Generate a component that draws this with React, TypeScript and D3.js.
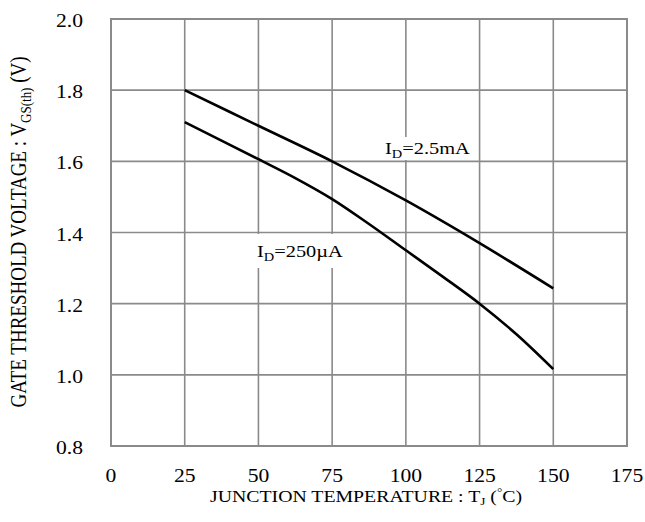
import React from "react";
import * as d3 from "d3";

// Junction temperature (°C) sample points and threshold voltages (V)
const tempsHigh = [25, 50, 75, 100, 125, 150];
const vthHigh = [1.8, 1.7, 1.6, 1.49, 1.37, 1.243]; // ID = 2.5mA

const tempsLow = [25, 50, 62.5, 75, 87.5, 100, 112.5, 125, 137.5, 150];
const vthLow = [1.71, 1.606, 1.553, 1.494, 1.424, 1.35, 1.276, 1.2, 1.114, 1.016]; // ID = 250µA

const xTicks = [0, 25, 50, 75, 100, 125, 150, 175];
const yTicks = [0.8, 1.0, 1.2, 1.4, 1.6, 1.8, 2.0];

const W = 645;
const H = 522;
const plot = { left: 111, right: 627, top: 19, bottom: 446 };
const FONT = "'Liberation Serif', 'Times New Roman', serif";
const SX = 1.2; // horizontal glyph stretch

export default function App() {
  const x = d3.scaleLinear().domain([0, 175]).range([plot.left, plot.right]);
  const y = d3.scaleLinear().domain([0.8, 2.0]).range([plot.bottom, plot.top]);

  const line = d3
    .line<[number, number]>()
    .x((d) => x(d[0]))
    .y((d) => y(d[1]))
    .curve(d3.curveCatmullRom.alpha(0.5));

  const highPts = tempsHigh.map((t, i) => [t, vthHigh[i]] as [number, number]);
  const lowPts = tempsLow.map((t, i) => [t, vthLow[i]] as [number, number]);

  const gridColor = "#8a8a8a";

  return (
    <svg
      width={W}
      height={H}
      style={{ position: "absolute", left: 0, top: 0, background: "#fff" }}
      fontFamily={FONT}
    >
      <rect x={0} y={0} width={W} height={H} fill="#fff" />
      {/* grid */}
      {xTicks.map((t) => (
        <line key={"gx" + t} x1={x(t)} x2={x(t)} y1={plot.top} y2={plot.bottom} stroke={gridColor} strokeWidth={1.6} />
      ))}
      {yTicks.map((t) => (
        <line key={"gy" + t} x1={plot.left} x2={plot.right} y1={y(t)} y2={y(t)} stroke={gridColor} strokeWidth={1.6} />
      ))}
      <rect
        x={plot.left}
        y={plot.top}
        width={plot.right - plot.left}
        height={plot.bottom - plot.top}
        fill="none"
        stroke={gridColor}
        strokeWidth={2}
      />

      {/* curves */}
      <path d={line(highPts) || ""} fill="none" stroke="#000" strokeWidth={2.6} />
      <path d={line(lowPts) || ""} fill="none" stroke="#000" strokeWidth={2.6} />

      {/* curve labels */}
      <rect x={383} y={137} width={94} height={23} fill="#fff" />
      <g transform={`translate(385,153.5) scale(${SX},1)`}>
        <text x={0} y={0} fontSize={17} fill="#000">
          I<tspan fontSize={12} dy={4}>D</tspan>
          <tspan dy={-4}>=2.5mA</tspan>
        </text>
      </g>
      <rect x={251} y={234} width={94} height={34} fill="#fff" />
      <g transform={`translate(257,256.5) scale(${SX},1)`}>
        <text x={0} y={0} fontSize={17} fill="#000">
          I<tspan fontSize={12} dy={4}>D</tspan>
          <tspan dy={-4}>=250µA</tspan>
        </text>
      </g>

      {/* y tick labels */}
      {yTicks.map((t) => (
        <g key={"yl" + t} transform={`translate(83,${y(t) + 8}) scale(${SX},1)`}>
          <text textAnchor="end" fontSize={18} fill="#000">
            {t.toFixed(1)}
          </text>
        </g>
      ))}
      {/* x tick labels */}
      {xTicks.map((t) => (
        <g key={"xl" + t} transform={`translate(${x(t)},481.5) scale(${SX},1)`}>
          <text textAnchor="middle" fontSize={18} fill="#000">
            {t}
          </text>
        </g>
      ))}

      {/* axis titles */}
      <g transform={`translate(366,502) scale(${SX},1)`}>
        <text textAnchor="middle" fontSize={16.5} fill="#000">
          JUNCTION TEMPERATURE : T<tspan fontSize={11} dy={3}>J</tspan>
          <tspan dy={-3}> (</tspan>
          <tspan fontSize={11} dy={-6}>°</tspan>
          <tspan dy={6}>C)</tspan>
        </text>
      </g>
      <g transform={`translate(26,232) scale(${SX},1) rotate(-90)`}>
        <text textAnchor="middle" fontSize={19} fill="#000">
          GATE THRESHOLD VOLTAGE : V<tspan fontSize={13} dy={4}>GS(th)</tspan>
          <tspan dy={-4}> (V)</tspan>
        </text>
      </g>
    </svg>
  );
}
